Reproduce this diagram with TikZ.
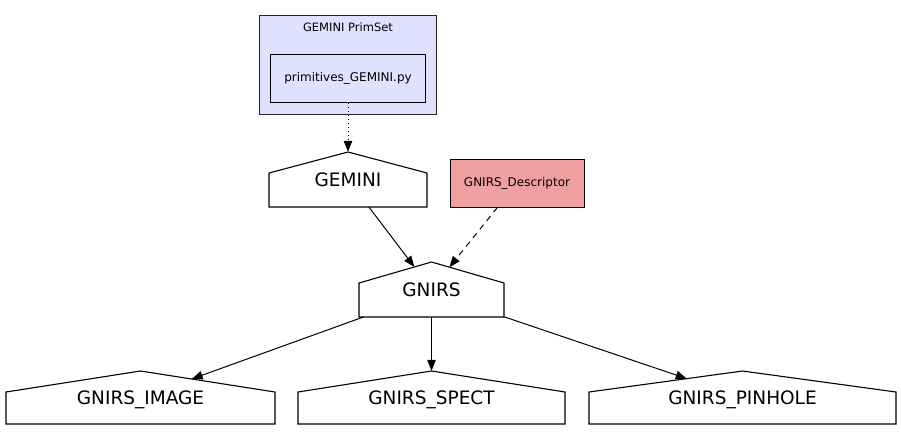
\documentclass[tikz,border=0pt]{standalone}
\usepackage{fontspec}
\setmainfont{DejaVu Sans}
\usetikzlibrary{arrows.meta, calc, intersections}

\definecolor{primfill}{HTML}{E0E0FF}
\definecolor{descfill}{HTML}{F0A0A0}

% house node: name, left, right, apex, shoulder, bottom, text
\newcommand{\housenode}[7]{%
  \node[housetext, minimum width={(#3-#2)*1pt}, minimum height={(#6-#4)*1pt}]
    (#1) at ({(#2+#3)/2},{(#4+#6)/2}) {#7};
  \draw[houseline, name path=#1-outline] (#2,#6) -- (#2,#5) -- ({(#2+#3)/2},#4)
    -- (#3,#5) -- (#3,#6) -- cycle;
}

\begin{document}
\begin{tikzpicture}[x=1pt,y=-1pt]
\tikzstyle{box}=[draw=black, line width=1pt, inner sep=0pt, font=\fontsize{12}{14}\selectfont]
\tikzstyle{cluster}=[draw=black!85, line width=1pt, fill=primfill, inner sep=0pt]
\tikzstyle{housetext}=[inner sep=0pt, text height=13.5pt, text depth=0pt, font=\fontsize{18.5}{22}\selectfont]
\tikzstyle{houseline}=[draw=black, line width=1.1pt, line join=miter]
\tikzstyle{solidedge}=[line width=1pt, -{Triangle[length=11pt,width=8.5pt]}]
\tikzstyle{dashededge}=[solidedge, dash pattern=on 6pt off 5pt]
\tikzstyle{dottededge}=[solidedge, dash pattern=on 1pt off 3pt]

\fill[white] (0,0) rectangle (901,437);
\useasboundingbox (0,0) rectangle (901,437);

% primitive set cluster
\node[cluster, minimum width=177pt, minimum height=99pt] (primset) at (348,65) {};
\node[inner sep=0pt, font=\fontsize{11.5}{14}\selectfont] (primsetlabel) at (348,27) {GEMINI PrimSet};
\node[box, fill=primfill, minimum width=155pt, minimum height=48pt] (prim) at (348,78) {primitives\_GEMINI.py};

\node[box, fill=descfill, minimum width=134pt, minimum height=48pt] (desc) at (517,183) {GNIRS\_Descriptor};

\housenode{gemini}{269}{427}{152}{173}{207}{GEMINI}
\housenode{gnirs}{359}{504}{262}{283}{317}{GNIRS}
\housenode{image}{6}{275}{371}{392}{424}{GNIRS\_IMAGE}
\housenode{spect}{298}{565}{371}{392}{424}{GNIRS\_SPECT}
\housenode{pinhole}{589}{896}{371}{392}{424}{GNIRS\_PINHOLE}

\path[name path=gem-gn] (gemini.center) -- (gnirs.center);
\path[name path=desc-gn] (desc.center) -- (gnirs.center);
\path[name path=gn-img] ([xshift=8pt]gnirs.center) -- (image.center);
\path[name path=gn-pin] ([xshift=-8pt]gnirs.center) -- (pinhole.center);
\path[name intersections={of=gn-img and gnirs-outline, by=imgfrom}];
\path[name intersections={of=gn-pin and gnirs-outline, by=pinfrom}];

\draw[dottededge] (prim) -- (gemini);
\draw[solidedge, name intersections={of=gem-gn and gnirs-outline, by=gemtip}] (gemini) -- (gemtip);
\draw[dashededge, name intersections={of=desc-gn and gnirs-outline, by=desctip}] (desc) -- (desctip);
\draw[solidedge, name intersections={of=gn-img and image-outline, by=imgtip}] (imgfrom) -- (imgtip);
\draw[solidedge] (gnirs) -- (spect);
\draw[solidedge, name intersections={of=gn-pin and pinhole-outline, by=pintip}] (pinfrom) -- (pintip);
\end{tikzpicture}
\end{document}
